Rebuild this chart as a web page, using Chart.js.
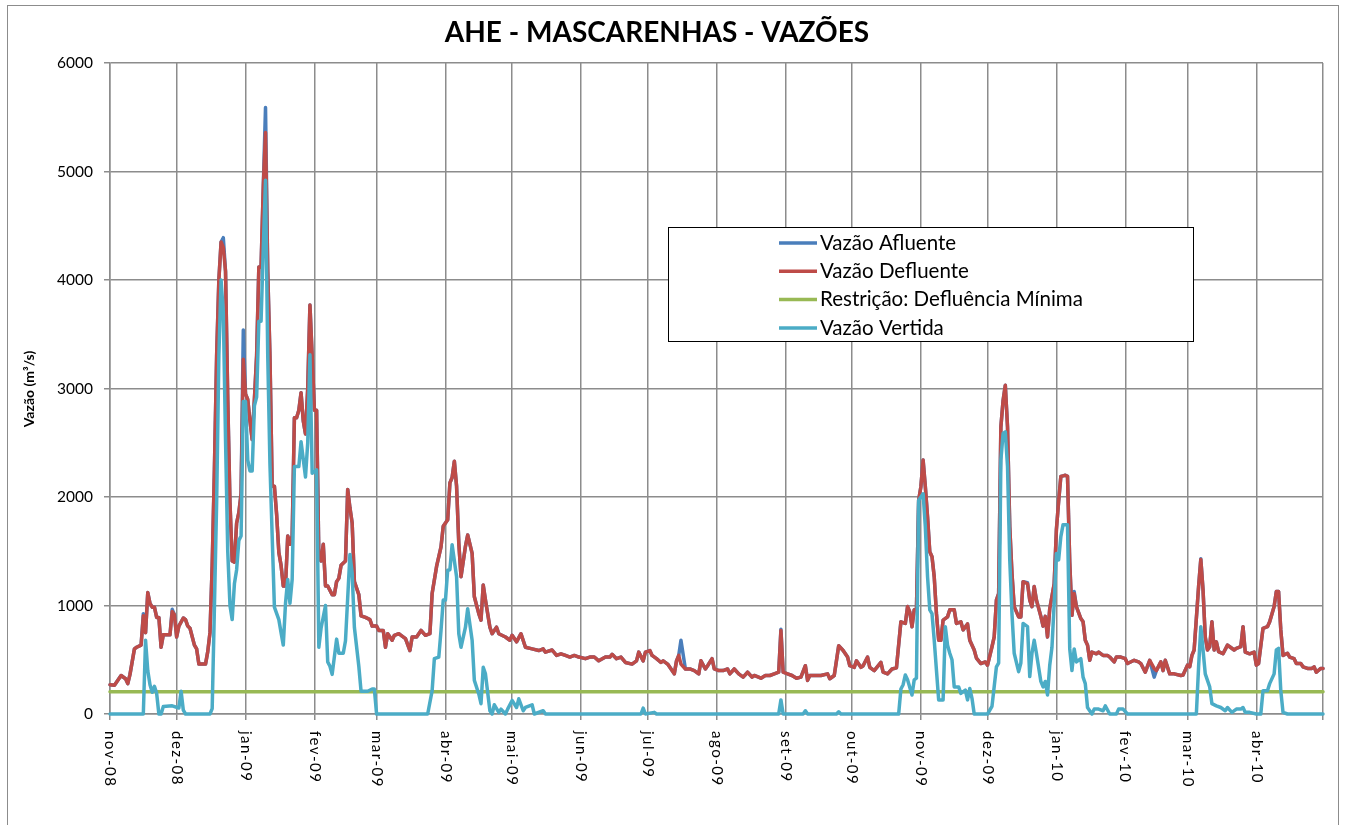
<!DOCTYPE html>
<html lang="pt-BR">
<head>
<meta charset="utf-8">
<title>AHE - Mascarenhas - Vazões</title>
<script src="https://cdn.jsdelivr.net/npm/chart.js@4.4.1/dist/chart.umd.min.js"></script>
<style>
    html, body { margin: 0; padding: 0; background: #ffffff; }
    #moldura { position: relative; width: 1345px; height: 825px; overflow: hidden; }
    #borda { position: absolute; left: 7px; top: 5px; width: 1332px; height: 860px; border: 1px solid #8c8c8c; box-sizing: border-box; }
    #graficaVazoes { position: absolute; left: 0; top: 0; }
</style>
</head>
<body>
<div id="moldura">
    <div id="borda"></div>
    <canvas id="graficaVazoes" width="1345" height="825"></canvas>
</div>
<script>
// dias contados a partir de 01/11/2008
const mesesInicio = [0, 30, 61, 92, 120, 151, 181, 212, 242, 273, 304, 334, 365, 395, 426, 457, 485, 516, 546];
const mesesRotulos = ["nov-08", "dez-08", "jan-09", "fev-09", "mar-09", "abr-09", "mai-09", "jun-09", "jul-09",
    "ago-09", "set-09", "out-09", "nov-09", "dez-09", "jan-10", "fev-10", "mar-10", "abr-10", ""];
const ticksVazao = [0, 1000, 2000, 3000, 4000, 5000, 6000];

const dias = [
    0, 2, 4, 5, 7, 8, 9, 11, 12, 14, 15, 16, 17, 18, 19, 20, 21, 22, 23, 24, 27, 28, 29,
    30, 31, 33, 34, 35, 36, 38, 39, 40, 43, 44, 45, 46, 47, 48, 49, 50, 51, 52, 53, 54, 55, 56, 57, 58, 59, 60,
    61, 62, 63, 64, 65, 66, 67, 68, 69, 70, 71, 72, 73, 74, 75, 76, 77, 78, 79, 80, 81, 82, 83, 84, 85, 86, 87, 88, 89, 90, 91,
    92, 93, 94, 95, 96, 97, 98, 100, 101, 102, 103, 104, 106, 107, 108, 109, 110, 112, 113, 115, 117, 118,
    120, 121, 123, 124, 125, 127, 128, 130, 131, 133, 135, 136, 138, 140, 142, 144, 145, 147, 149, 150,
    152, 153, 154, 155, 156, 157, 158, 160, 161, 163, 164, 166, 167, 168, 169, 171, 172, 174, 175, 178, 180,
    181, 183, 185, 187, 190, 193, 195, 196, 199, 201, 203, 205, 207, 209, 211,
    214, 216, 218, 220, 223, 225, 226, 228, 230, 232, 235, 237, 238, 240, 241,
    243, 244, 246, 248, 249, 251, 252, 254, 255, 256, 257, 259, 261, 263, 265, 266, 268, 269, 271, 272,
    274, 276, 278, 279, 281, 283, 285, 287, 289, 290, 293, 295, 297, 299, 301, 302, 303,
    305, 307, 309, 311, 313, 314, 315, 318, 320, 323, 324, 326, 328, 330, 332, 333,
    335, 336, 338, 339, 341, 342, 344, 347, 348, 350, 352, 354, 356, 358, 359, 360, 361, 362, 363, 364,
    365, 366, 367, 368, 369, 370, 371, 372, 373, 374, 375, 377, 378, 380, 381, 383, 384, 386, 387, 389, 390, 392, 394,
    395, 397, 398, 399, 400, 401, 402, 403, 404, 405, 406, 407, 409, 410, 411, 413, 414, 415, 416, 417, 419, 420, 421, 422, 423, 425,
    426, 427, 428, 429, 430, 431, 432, 433, 434, 435, 437, 438, 439, 440, 441, 442, 444, 445, 447, 449, 450, 452, 453, 455,
    457, 458, 461, 463, 464, 466, 468, 470, 471, 473, 474, 475, 477, 479, 482, 483,
    485, 486, 487, 488, 490, 491, 492, 493, 494, 495, 496, 497, 498, 499, 501, 503, 504, 506, 507, 509, 510, 511, 513, 515,
    516, 517, 519, 521, 522, 524, 525, 526, 527, 528, 530, 531, 533, 534, 536, 537, 539, 541, 542, 543, 545, 546
];

const vazaoDefluente = [
    270, 265, 325, 355, 325, 280, 365, 600, 615, 635, 905, 750, 1120, 1020, 985, 985, 890, 890, 615, 730, 730, 945, 915,
    710, 810, 885, 870, 810, 790, 635, 600, 460, 460, 575, 750, 1370, 2250, 3300, 4000, 4350, 4300, 4080, 2900, 1950, 1410, 1400, 1760, 1855, 2030, 3270,
    2950, 2900, 2700, 2530, 2900, 3300, 4120, 4120, 4860, 5360, 4080, 3300, 2100, 2100, 1840, 1490, 1370, 1180, 1180, 1640, 1565, 1640, 2730, 2730, 2800, 2960, 2700, 2580, 3000, 3770, 3300,
    2800, 2800, 1450, 1410, 1565, 1180, 1180, 1100, 1100, 1220, 1250, 1370, 1410, 2070, 1900, 1760, 1220, 1100, 905, 890, 870, 810,
    810, 770, 770, 615, 740, 680, 725, 740, 725, 695, 585, 710, 710, 770, 725, 740, 1110, 1360, 1540, 1730,
    1790, 2130, 2180, 2330, 2100, 1575, 1265, 1545, 1650, 1480, 1080, 925, 865, 1190, 1050, 800, 740, 800, 740, 710, 680,
    725, 665, 740, 615, 600, 585, 600, 570, 590, 540, 555, 540, 525, 540, 525,
    510, 525, 525, 490, 525, 525, 550, 510, 525, 475, 460, 490, 570, 490, 570,
    585, 540, 510, 475, 490, 460, 430, 370, 490, 540, 460, 415, 415, 400, 370, 490, 415, 445, 510, 415,
    400, 400, 415, 370, 415, 370, 340, 385, 340, 355, 330, 355, 355, 370, 385, 770, 385,
    370, 355, 330, 340, 445, 310, 355, 355, 355, 370, 325, 355, 630, 585, 525, 445,
    430, 490, 430, 445, 525, 430, 400, 475, 385, 370, 415, 425, 850, 835, 990, 940, 805, 960, 960, 1970,
    2095, 2340, 2095, 1815, 1495, 1450, 1265, 925, 680, 680, 865, 895, 960, 960, 835, 850, 775, 830, 680, 590, 515, 465, 480,
    450, 620, 710, 1050, 1110, 2645, 2890, 3030, 2645, 1725, 1295, 990, 895, 895, 1220, 1200, 1050, 990, 1175, 1050, 900, 810, 900, 710, 970, 1200,
    1700, 1960, 2190, 2195, 2200, 2190, 1400, 910, 1110, 990, 880, 850, 680, 635, 495, 570, 555, 570, 540, 540, 525, 480, 525, 525,
    510, 465, 495, 480, 465, 385, 495, 420, 400, 480, 400, 495, 370, 370, 355, 360,
    450, 435, 540, 590, 1175, 1425, 1145, 710, 590, 620, 850, 590, 665, 575, 555, 635, 620, 590, 605, 620, 805, 570, 555, 570,
    450, 465, 790, 805, 850, 990, 1130, 1130, 775, 540, 560, 525, 510, 465, 465, 435, 420, 420, 435, 385, 420, 420
];

const vazaoAfluente = [
    270, 265, 325, 355, 325, 280, 365, 600, 615, 635, 925, 750, 1120, 1020, 985, 985, 890, 890, 615, 730, 730, 965, 915,
    710, 810, 885, 870, 810, 790, 635, 600, 460, 460, 575, 750, 1370, 2250, 3300, 4000, 4350, 4390, 4080, 2900, 1950, 1410, 1400, 1760, 1855, 2030, 3540,
    2950, 2900, 2700, 2530, 2900, 3300, 4120, 4120, 4860, 5590, 4080, 3300, 2100, 2100, 1840, 1490, 1370, 1180, 1180, 1640, 1565, 1640, 2730, 2730, 2800, 2960, 2700, 2580, 3000, 3770, 3300,
    2800, 2800, 1450, 1410, 1565, 1180, 1180, 1100, 1100, 1220, 1250, 1370, 1410, 2070, 1900, 1760, 1220, 1100, 905, 890, 870, 810,
    810, 770, 770, 615, 740, 680, 725, 740, 725, 695, 585, 710, 710, 770, 725, 740, 1110, 1360, 1540, 1730,
    1790, 2130, 2180, 2330, 2100, 1575, 1265, 1545, 1650, 1480, 1080, 925, 865, 1190, 1050, 800, 740, 800, 740, 710, 680,
    725, 665, 740, 615, 600, 585, 600, 570, 590, 540, 555, 540, 525, 540, 525,
    510, 525, 525, 490, 525, 525, 550, 510, 525, 475, 460, 490, 570, 490, 570,
    585, 540, 510, 475, 490, 460, 430, 370, 490, 540, 680, 415, 415, 400, 370, 490, 415, 445, 510, 415,
    400, 400, 415, 370, 415, 370, 340, 385, 340, 355, 330, 355, 355, 370, 385, 780, 385,
    370, 355, 330, 340, 445, 310, 355, 355, 355, 370, 325, 355, 630, 585, 525, 445,
    430, 490, 430, 445, 525, 430, 400, 475, 385, 370, 415, 425, 850, 835, 990, 940, 805, 960, 960, 1970,
    2095, 2340, 2095, 1815, 1495, 1450, 1265, 925, 680, 680, 865, 895, 960, 960, 835, 850, 775, 830, 680, 590, 515, 465, 480,
    450, 620, 710, 1050, 1110, 2645, 2890, 3030, 2645, 1725, 1295, 990, 895, 895, 1220, 1210, 1050, 990, 1175, 1050, 900, 810, 900, 710, 970, 1200,
    1700, 1960, 2190, 2195, 2200, 2190, 1400, 910, 1130, 990, 880, 850, 680, 635, 495, 570, 555, 570, 540, 540, 525, 480, 525, 525,
    510, 465, 495, 480, 465, 385, 495, 340, 400, 480, 400, 495, 370, 370, 355, 360,
    450, 435, 540, 590, 1175, 1430, 1145, 710, 590, 620, 850, 590, 665, 575, 555, 635, 620, 590, 605, 620, 805, 570, 555, 570,
    450, 465, 790, 805, 850, 990, 1130, 1130, 775, 540, 560, 525, 510, 465, 465, 435, 420, 420, 435, 385, 420, 420
];

const diasVertida = [
    0, 15, 16, 17, 18, 19, 20, 21, 22, 23, 24, 28,
    31, 32, 33, 34, 45, 46, 47, 48, 49, 50, 51, 52, 53, 54, 55, 56, 57, 58, 59, 60,
    61, 62, 63, 64, 65, 66, 67, 68, 69, 70, 71, 72, 73, 74, 76, 77, 78, 79, 80, 81, 82, 83, 85, 86, 88, 89, 90, 91,
    92, 93, 94, 95, 97, 98, 99, 100, 102, 103, 105, 106, 108, 109, 110, 112, 113, 116, 118, 119,
    120, 143, 145, 146, 148, 149, 150,
    151, 152, 153, 154, 156, 157, 158, 160, 161, 163, 164, 166, 167, 168, 169, 171, 172, 173, 175, 176, 178, 179,
    181, 183, 184, 186, 187, 190, 191, 195, 196,
    239, 240, 241, 245, 246,
    301, 302, 303, 312, 313, 314, 327, 328, 329,
    355, 356, 357, 358, 359, 361, 362, 363, 364,
    366, 367, 368, 369, 370, 371, 372, 373, 375, 376, 377, 378, 379, 380, 382, 383, 385, 386, 387, 388, 389,
    395, 397, 399, 400, 401, 402, 403, 404, 405, 406, 407, 409, 410, 411, 413, 414, 415, 416, 417, 419, 420, 421, 422, 423, 424, 425,
    426, 427, 428, 429, 431, 432, 433, 434, 435, 437, 438, 439, 440, 442, 443, 445, 447, 448, 450, 453, 454, 456,
    458, 489,
    490, 491, 492, 493, 494, 495, 496, 498, 500, 502, 503, 505, 507, 509, 510, 511, 513,
    516, 518, 519, 521, 522, 524, 525, 526, 527, 528, 530, 546
];

const vazaoVertida = [
    0, 0, 680, 400, 270, 200, 255, 190, 0, 0, 70, 75,
    55, 210, 35, 0, 0, 50, 985, 1950, 3300, 4000, 3700, 2530, 1500, 1000, 870, 1200, 1330, 1600, 1640, 2880,
    2880, 2340, 2240, 2240, 2840, 2920, 3620, 3620, 4300, 4920, 3310, 2300, 1640, 985, 870, 750, 635, 1020, 1240, 1020, 1240, 2280, 2280, 2510, 2185, 2500, 3310, 2220,
    2230, 2250, 615, 790, 1000, 480, 440, 365, 690, 560, 560, 675, 1470, 1300, 800, 440, 210, 210, 230, 230,
    0, 0, 215, 510, 525, 770, 1050,
    1050, 1325, 1330, 1560, 1265, 740, 615, 800, 970, 680, 310, 185, 95, 430, 370, 30, 0, 85, 15, 45, 0, 45,
    125, 60, 140, 30, 60, 85, 0, 30, 0,
    0, 55, 0, 15, 0,
    0, 130, 0, 0, 30, 0, 0, 20, 0,
    0, 230, 270, 360, 315, 175, 315, 330, 1970,
    2030, 1725, 1265, 960, 925, 680, 405, 130, 130, 805, 635, 560, 500, 250, 250, 190, 220, 130, 235, 145, 0,
    0, 70, 435, 470, 2340, 2585, 2600, 2280, 1420, 925, 560, 390, 470, 835, 805, 345, 560, 680, 560, 300, 250, 300, 175, 450, 615, 1020,
    1480, 1420, 1635, 1745, 1745, 600, 400, 600, 480, 510, 340, 280, 60, 0, 45, 45, 30, 75, 0, 0, 45, 45,
    0, 0,
    435, 805, 590, 370, 310, 250, 95, 75, 60, 30, 60, 15, 45, 45, 60, 15, 15,
    0, 0, 215, 215, 280, 370, 590, 605, 215, 15, 0, 0
];

const diasRestricao = [0, 546];
const vazaoRestricao = [205, 205];

const nomesSeries = ["Vazão Afluente", "Vazão Defluente", "Restrição: Defluência Mínima", "Vazão Vertida"];
const coresSeries = ["#4a7ebb", "#be4b48", "#98b954", "#4bacc6"];
const tituloGrafico = "AHE - MASCARENHAS - VAZÕES";
const tituloEixoY = "Vazão (m³/s)";
const fonteBase = "Lato, 'Open Sans', sans-serif";
const corGrade = "#8c8c8c";

function pontos(xs, ys) {
    return xs.map((x, i) => ({ x: x, y: ys[i] }));
}

function serie(indice, xs, ys, ordem) {
    return {
        label: nomesSeries[indice],
        data: pontos(xs, ys),
        borderColor: coresSeries[indice],
        backgroundColor: coresSeries[indice],
        borderWidth: 3.5,
        pointRadius: 0,
        tension: 0,
        borderJoinStyle: "round",
        borderCapStyle: "round",
        clip: 4,
        order: ordem
    };
}

const desenhoExtra = {
    id: "desenhoExtra",
    afterDraw(chart) {
        const ctx = chart.ctx;
        const escalaX = chart.scales.x;
        const base = chart.chartArea.bottom;
        ctx.save();
        ctx.fillStyle = "#000";

        // título
        ctx.font = `bold 28px ${fonteBase}`;
        ctx.textAlign = "center";
        ctx.textBaseline = "alphabetic";
        ctx.fillText(tituloGrafico, 657, 42);

        // título do eixo y
        ctx.save();
        ctx.translate(29, 389);
        ctx.rotate(-Math.PI / 2);
        ctx.font = `bold 14px ${fonteBase}`;
        ctx.textBaseline = "middle";
        ctx.fillText(tituloEixoY, 0, 0);
        ctx.restore();

        // rótulos dos meses, girados
        ctx.font = `15px ${fonteBase}`;
        ctx.letterSpacing = "1.5px";
        ctx.textAlign = "left";
        ctx.textBaseline = "middle";
        mesesInicio.forEach((dia, i) => {
            if (!mesesRotulos[i]) return;
            ctx.save();
            ctx.translate(escalaX.getPixelForValue(dia), base + 17);
            ctx.rotate(Math.PI / 2);
            ctx.fillText(mesesRotulos[i], 0, 0);
            ctx.restore();
        });
        ctx.letterSpacing = "0px";

        // legenda
        const caixa = { x: 668, y: 227, w: 525, h: 114 };
        ctx.fillStyle = "#fff";
        ctx.fillRect(caixa.x, caixa.y, caixa.w, caixa.h);
        ctx.strokeStyle = "#000";
        ctx.lineWidth = 1;
        ctx.strokeRect(caixa.x + 0.5, caixa.y + 0.5, caixa.w, caixa.h);
        ctx.font = `20.5px ${fonteBase}`;
        ctx.textAlign = "left";
        ctx.textBaseline = "middle";
        nomesSeries.forEach((nome, i) => {
            const y = 243 + i * 28.3;
            ctx.strokeStyle = coresSeries[i];
            ctx.lineWidth = 3.5;
            ctx.beginPath();
            ctx.moveTo(779, y);
            ctx.lineTo(817, y);
            ctx.stroke();
            ctx.fillStyle = "#000";
            ctx.fillText(nome, 820, y);
        });
        ctx.restore();
    }
};

new Chart(document.getElementById("graficaVazoes"), {
    type: "line",
    data: {
        datasets: [
            serie(0, dias, vazaoAfluente, 4),
            serie(1, dias, vazaoDefluente, 3),
            serie(2, diasRestricao, vazaoRestricao, 2),
            serie(3, diasVertida, vazaoVertida, 1)
        ]
    },
    options: {
        responsive: false,
        animation: false,
        layout: { padding: { left: 0, top: 63, right: 22, bottom: 0 } },
        plugins: {
            legend: { display: false },
            title: { display: false },
            tooltip: { enabled: false }
        },
        scales: {
            x: {
                type: "linear",
                min: 0,
                max: 546,
                afterBuildTicks: escala => { escala.ticks = mesesInicio.map(v => ({ value: v })); },
                afterFit: escala => { escala.height = 111; },
                ticks: { display: false },
                grid: { color: corGrade, lineWidth: 1.5, tickLength: 6, tickColor: corGrade },
                border: { color: corGrade, width: 1.5 }
            },
            y: {
                min: 0,
                max: 6000,
                afterBuildTicks: escala => { escala.ticks = ticksVazao.map(v => ({ value: v })); },
                afterFit: escala => { escala.width = 110; },
                ticks: {
                    color: "#000",
                    padding: 11,
                    font: { family: fonteBase, size: 15.5 },
                    callback: valor => String(valor)
                },
                grid: { color: corGrade, lineWidth: 1.5, tickLength: 6, tickColor: corGrade },
                border: { color: corGrade, width: 1.5 }
            }
        }
    },
    plugins: [desenhoExtra]
});
</script>
</body>
</html>
